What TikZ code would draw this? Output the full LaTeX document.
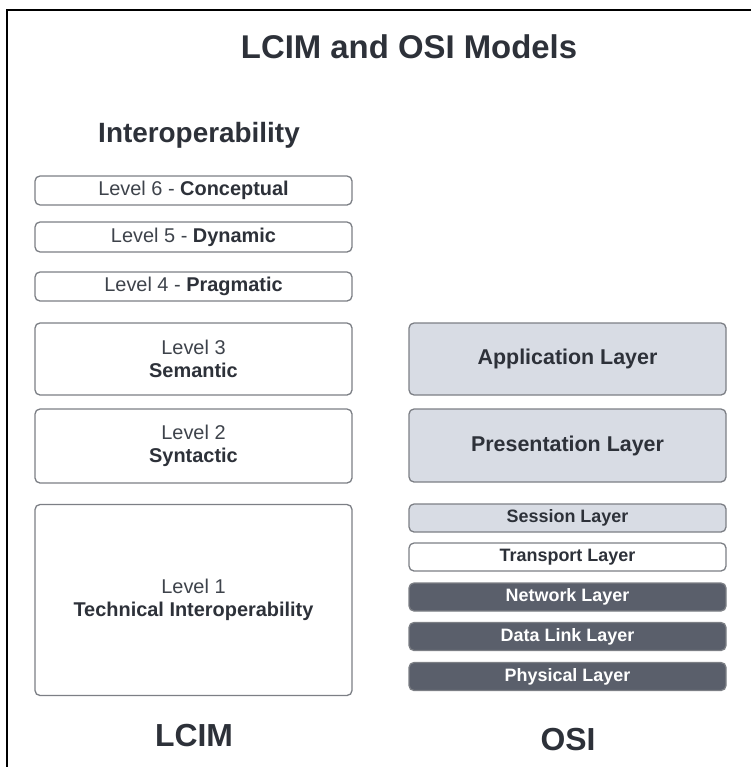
\documentclass[tikz,border=0pt]{standalone}
\usepackage{fontspec}
\setmainfont{Liberation Sans}
\definecolor{inkdark}{HTML}{2D3139}
\definecolor{inkgray}{HTML}{3E434B}
\definecolor{boxline}{HTML}{7C7F85}
\definecolor{osilight}{HTML}{D8DCE4}
\definecolor{osidark}{HTML}{5A5F6B}

\begin{document}
\begin{tikzpicture}[x=1bp,y=-1bp]
        \tikzstyle{every node}=[font=\fontsize{20}{23}\selectfont, text=inkgray, align=center, inner sep=0pt]
        \tikzstyle{lvlbox}=[draw=boxline, line width=1.3bp, rounded corners=5bp, fill=white, minimum width=317bp]
        \tikzstyle{osibox}=[lvlbox, font=\fontsize{18}{21}\selectfont\bfseries, text=inkdark]
        \tikzstyle{osibig}=[osibox, font=\fontsize{21.5}{24}\selectfont\bfseries]
        \tikzstyle{heading}=[text=inkdark, font=\fontsize{32}{36}\selectfont\bfseries]

        \useasboundingbox (0,0) rectangle (751,767);
        % frame
        \draw[line width=2.5bp] (7,767) -- (7,10) -- (751,10);

        \node[heading, font=\fontsize{33}{36}\selectfont\bfseries] (title) at (409,47) {LCIM and OSI Models};
        \node[heading, font=\fontsize{28}{32}\selectfont\bfseries] (interop) at (199,135) {Interoperability};

        % LCIM levels
        \node[lvlbox, minimum height=29bp] (lvl6) at (193.5,190.5) {Level 6 - \textbf{\color{inkdark}Conceptual}};
        \node[lvlbox, minimum height=30bp] (lvl5) at (193.5,237) {Level 5 - \textbf{\color{inkdark}Dynamic}};
        \node[lvlbox, minimum height=29bp] (lvl4) at (193.5,286.5) {Level 4 - \textbf{\color{inkdark}Pragmatic}};
        \node[lvlbox, minimum height=72bp] (lvl3) at (193.5,359) {Level 3\\\textbf{\color{inkdark}Semantic}};
        \node[lvlbox, minimum height=74bp] (lvl2) at (193.5,446) {Level 2\\\textbf{\color{inkdark}Syntactic}};
        \node[lvlbox, minimum height=191bp] (lvl1) at (193.5,600) {Level 1\\\textbf{\color{inkdark}Technical Interoperability}};

        % OSI layers
        \node[osibig, fill=osilight, minimum height=72bp] (app) at (567.5,359) {Application Layer};
        \node[osibig, fill=osilight, minimum height=73bp] (pres) at (567.5,445.5) {Presentation Layer};
        \node[osibox, fill=osilight, minimum height=28bp] (sess) at (567.5,518) {Session Layer};
        \node[osibox, minimum height=28bp] (trans) at (567.5,557) {Transport Layer};
        \node[osibox, fill=osidark, text=white, minimum height=28bp] (net) at (567.5,597) {Network Layer};
        \node[osibox, fill=osidark, text=white, minimum height=28bp] (dlink) at (567.5,636.5) {Data Link Layer};
        \node[osibox, fill=osidark, text=white, minimum height=28bp] (phys) at (567.5,676.5) {Physical Layer};

        \node[heading] (lcim) at (194,736) {LCIM};
        \node[heading] (osi) at (568,740) {OSI};
    \end{tikzpicture}
\end{document}
